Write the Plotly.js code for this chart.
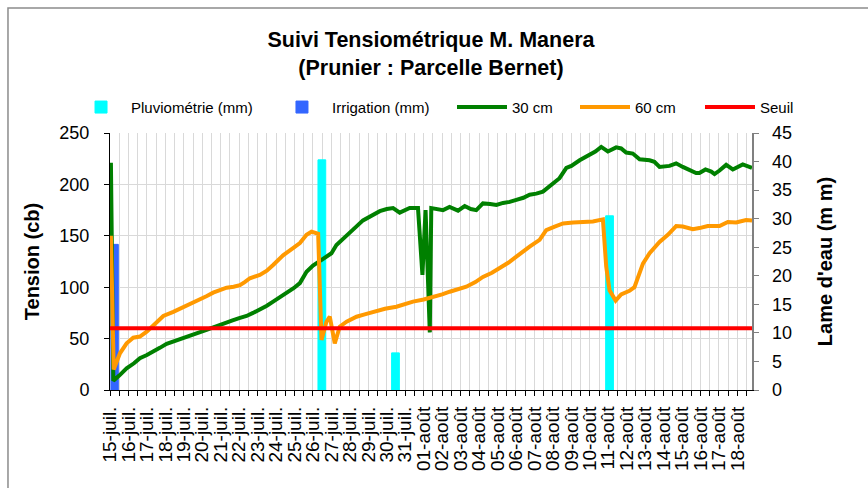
<!DOCTYPE html>
<html>
<head>
<meta charset="utf-8">
<script src="https://cdn.plot.ly/plotly-3.0.1.min.js"></script>
<style>
  html, body { margin: 0; padding: 0; background: #fff; }
  #chart { width: 868px; height: 488px; }
</style>
</head>
<body>
<div id="chart"></div>
<script>
// Tick labels (one per day, starting 15 July)
const tickLabels = [
  "15-juil.", "16-juil.", "17-juil.", "18-juil.", "19-juil.", "20-juil.", "21-juil.", "22-juil.",
  "23-juil.", "24-juil.", "25-juil.", "26-juil.", "27-juil.", "28-juil.", "29-juil.", "30-juil.",
  "31-juil.", "01-août", "02-août", "03-août", "04-août", "05-août", "06-août", "07-août",
  "08-août", "09-août", "10-août", "11-août", "12-août", "13-août", "14-août", "15-août",
  "16-août", "17-août", "18-août"
];

// Time in days since 15-juil. 00:00
// Pluviométrie (mm)
const pluvioT = [11.48, 15.47, 27.07];
const pluvioV = [40.3, 6.5, 30.5];
// Irrigation (mm)
const irrigT = [0.25];
const irrigV = [25.5];

// 30 cm tension (cb)
const t30 = [0.05, 0.18, 0.5, 0.9, 1.3, 1.62, 2.0, 2.35, 2.7, 3.07, 3.4, 3.79, 4.15, 4.51, 4.9, 5.23,
  5.6, 5.96, 6.3, 6.68, 7.0, 7.4, 7.75, 8.12, 8.5, 8.84, 9.2, 9.57, 9.95, 10.29, 10.65, 11.0,
  11.35, 11.73, 12.0, 12.27, 12.72, 13.17, 13.71, 14.2, 14.62, 15.0, 15.34, 15.7, 16.0, 16.24,
  16.69, 16.93, 17.1, 17.33, 17.41, 17.7, 18.05, 18.4, 18.86, 19.22, 19.55, 19.85, 20.21, 20.6,
  20.94, 21.3, 21.66, 22.02, 22.4, 22.74, 23.1, 23.46, 23.91, 24.36, 24.73, 25.0, 25.45, 25.99,
  26.3, 26.62, 26.98, 27.43, 27.7, 27.97, 28.33, 28.7, 29.24, 29.5, 29.78, 30.32, 30.68, 31.04,
  31.4, 31.76, 31.94, 32.27, 32.58, 32.76, 33.03, 33.39, 33.75, 34.29, 34.79];
const v30 = [221, 9, 14, 21, 26, 31, 34, 37, 41, 45, 47, 49, 51, 53.5, 56, 58.4,
  61, 63, 65, 68, 70, 72, 75, 78, 82, 86, 90, 94, 99, 104, 115, 121,
  125, 130, 133, 141, 149, 156, 165, 170, 174, 176, 177, 172.5, 175, 177,
  177, 112, 175, 56, 177, 176, 175, 178, 174.5, 179, 176, 175, 181.5, 181,
  180, 182, 183, 185, 187, 190, 191, 193, 199, 206, 216, 218, 223.5, 228.6,
  232, 236.5, 232, 236, 235, 231, 230, 224.5, 223.5, 222, 217, 218, 220.5, 217,
  214, 211, 211, 214.5, 212.5, 210, 213.5, 219, 214.5, 219.5, 216];

// 60 cm tension (cb)
const t60 = [0.05, 0.2, 0.54, 0.9, 1.26, 1.62, 1.99, 2.35, 2.89, 3.43, 3.8, 4.15, 4.5, 4.87, 5.25,
  5.59, 6.0, 6.32, 6.7, 7.04, 7.3, 7.58, 8.12, 8.5, 8.84, 9.38, 9.92, 10.29, 10.65, 10.92, 11.28,
  11.46, 11.73, 11.91, 12.18, 12.45, 12.82, 13.36, 13.8, 14.26, 14.9, 15.52, 16.0, 16.42, 17.0,
  17.5, 18.0, 18.41, 18.9, 19.31, 19.8, 20.21, 20.7, 21.12, 21.6, 22.02, 22.4, 22.74, 23.28,
  23.64, 24.1, 24.55, 25.1, 25.63, 26.17, 26.71, 26.89, 27.07, 27.4, 27.7, 28.15, 28.42, 28.88,
  29.24, 29.78, 30.23, 30.68, 31.04, 31.58, 31.94, 32.39, 33.03, 33.48, 33.93, 34.47, 34.79];
const v60 = [150, 20, 35.7, 45.4, 50.9, 52, 56.7, 63, 72, 76, 79, 82.7, 85.5, 88, 91.5,
  94.7, 97.5, 99.5, 100.5, 102, 105, 108.7, 112, 116, 121.6, 131, 138, 143, 151, 154, 152,
  48.6, 66.4, 71.3, 45.4, 61.6, 66.4, 71.3, 73.5, 76, 79, 81, 83.5, 86, 88,
  90, 93, 95.6, 98, 100.5, 105, 110, 114, 118.4, 124, 129.7, 135, 139.4, 146,
  155.6, 159, 162, 163, 163.5, 164, 166, 120, 97, 87, 93, 96.5, 100, 123,
  133, 144, 151, 159.5, 159, 156.5, 157.5, 159.5, 159.5, 163.5, 163, 165.4, 165];

// Seuil (cb)
const seuilT = [0, 34.79];
const seuilV = [60, 60];

const tickVals = tickLabels.map((_, i) => i);
const FONT = 'Arial, "Liberation Sans", sans-serif';

const traces = [
  { type: 'bar', name: 'Pluviométrie (mm)', x: pluvioT, y: pluvioV, width: 0.42, legend: 'legend',
    marker: { color: '#00FFFF', line: { color: '#00FFFF', width: 1 } }, xaxis: 'x', yaxis: 'y' },
  { type: 'bar', name: 'Irrigation (mm)', x: irrigT, y: irrigV, width: 0.4, legend: 'legend2',
    marker: { color: '#3366FF', line: { color: '#3366FF', width: 1 } }, xaxis: 'x', yaxis: 'y' },
  { type: 'scatter', mode: 'lines', name: '30 cm', x: t30, y: v30, legend: 'legend3',
    line: { color: '#008000', width: 4 }, xaxis: 'x', yaxis: 'y2' },
  { type: 'scatter', mode: 'lines', name: '60 cm', x: t60, y: v60, legend: 'legend4',
    line: { color: '#FF9900', width: 4 }, xaxis: 'x', yaxis: 'y2' },
  { type: 'scatter', mode: 'lines', name: 'Seuil', x: seuilT, y: seuilV, legend: 'legend5',
    line: { color: '#FF0000', width: 4 }, xaxis: 'x', yaxis: 'y2' }
];

function legendAt(x) {
  return {
    orientation: 'h', x: x, xanchor: 'left', y: 1.10, yanchor: 'middle',
    itemwidth: 50, font: { family: FONT, size: 15, color: '#000' },
    bgcolor: 'rgba(0,0,0,0)', borderwidth: 0
  };
}

const layout = {
  width: 868, height: 488,
  margin: { l: 110, r: 116, t: 133, b: 98, pad: 0, autoexpand: false },
  paper_bgcolor: '#fff', plot_bgcolor: '#fff',
  font: { family: FONT, color: '#000' },
  barmode: 'overlay',
  showlegend: true,
  title: {
    text: 'Suivi Tensiométrique M. Manera<br>(Prunier : Parcelle Bernet)',
    font: { family: FONT, size: 21.5, weight: 700, color: '#000' },
    x: 0.5, xref: 'paper', xanchor: 'center',
    y: 0.9045, yref: 'container', yanchor: 'middle'
  },
  legend: legendAt(-0.0607),
  legend2: legendAt(0.2523),
  legend3: legendAt(0.5327),
  legend4: legendAt(0.7243),
  legend5: legendAt(0.9190),
  xaxis: {
    type: 'linear', range: [0, 34.79], tickmode: 'array', tickvals: tickVals, ticktext: tickLabels,
    tickangle: -90, tickfont: { family: FONT, size: 19, color: '#000' }, ticklabelstandoff: 3,
    showgrid: true, gridcolor: '#d9d9d9', gridwidth: 1,
    showline: true, linecolor: '#000', linewidth: 1,
    ticks: 'outside', ticklen: 5, tickcolor: '#000', zeroline: false,
    minor: { tickmode: 'linear', tick0: 0, dtick: 0.5, showgrid: true, gridcolor: '#d9d9d9',
             ticks: 'outside', ticklen: 5, tickcolor: '#000' }
  },
  yaxis: {
    range: [0, 45], dtick: 5, side: 'right', showgrid: false, zeroline: false,
    showline: true, linecolor: '#808080', linewidth: 1.5,
    ticks: 'outside', ticklen: 5, tickcolor: '#808080', ticklabelstandoff: 10,
    tickfont: { family: FONT, size: 18, color: '#000' },
    title: { text: "Lame d'eau (m m)", font: { family: FONT, size: 20, weight: 700, color: '#000' }, standoff: 27 }
  },
  yaxis2: {
    range: [0, 250], dtick: 50, overlaying: 'y', side: 'left',
    showgrid: true, gridcolor: '#d9d9d9', zeroline: false,
    showline: true, linecolor: '#000', linewidth: 1,
    ticks: 'outside', ticklen: 5, tickcolor: '#000', ticklabelstandoff: 11,
    tickfont: { family: FONT, size: 18, color: '#000' },
    title: { text: 'Tension (cb)', font: { family: FONT, size: 20, weight: 700, color: '#000' }, standoff: 14 }
  },
  shapes: [
    { type: 'rect', xref: 'paper', yref: 'paper', x0: -0.1589, x1: 1.4, y0: -0.5, y1: 1.486,
      line: { color: '#8c8c8c', width: 1.5 }, fillcolor: 'rgba(0,0,0,0)', layer: 'below' }
  ]
};

Plotly.newPlot('chart', traces, layout, { displayModeBar: false, staticPlot: true });
</script>
</body>
</html>
